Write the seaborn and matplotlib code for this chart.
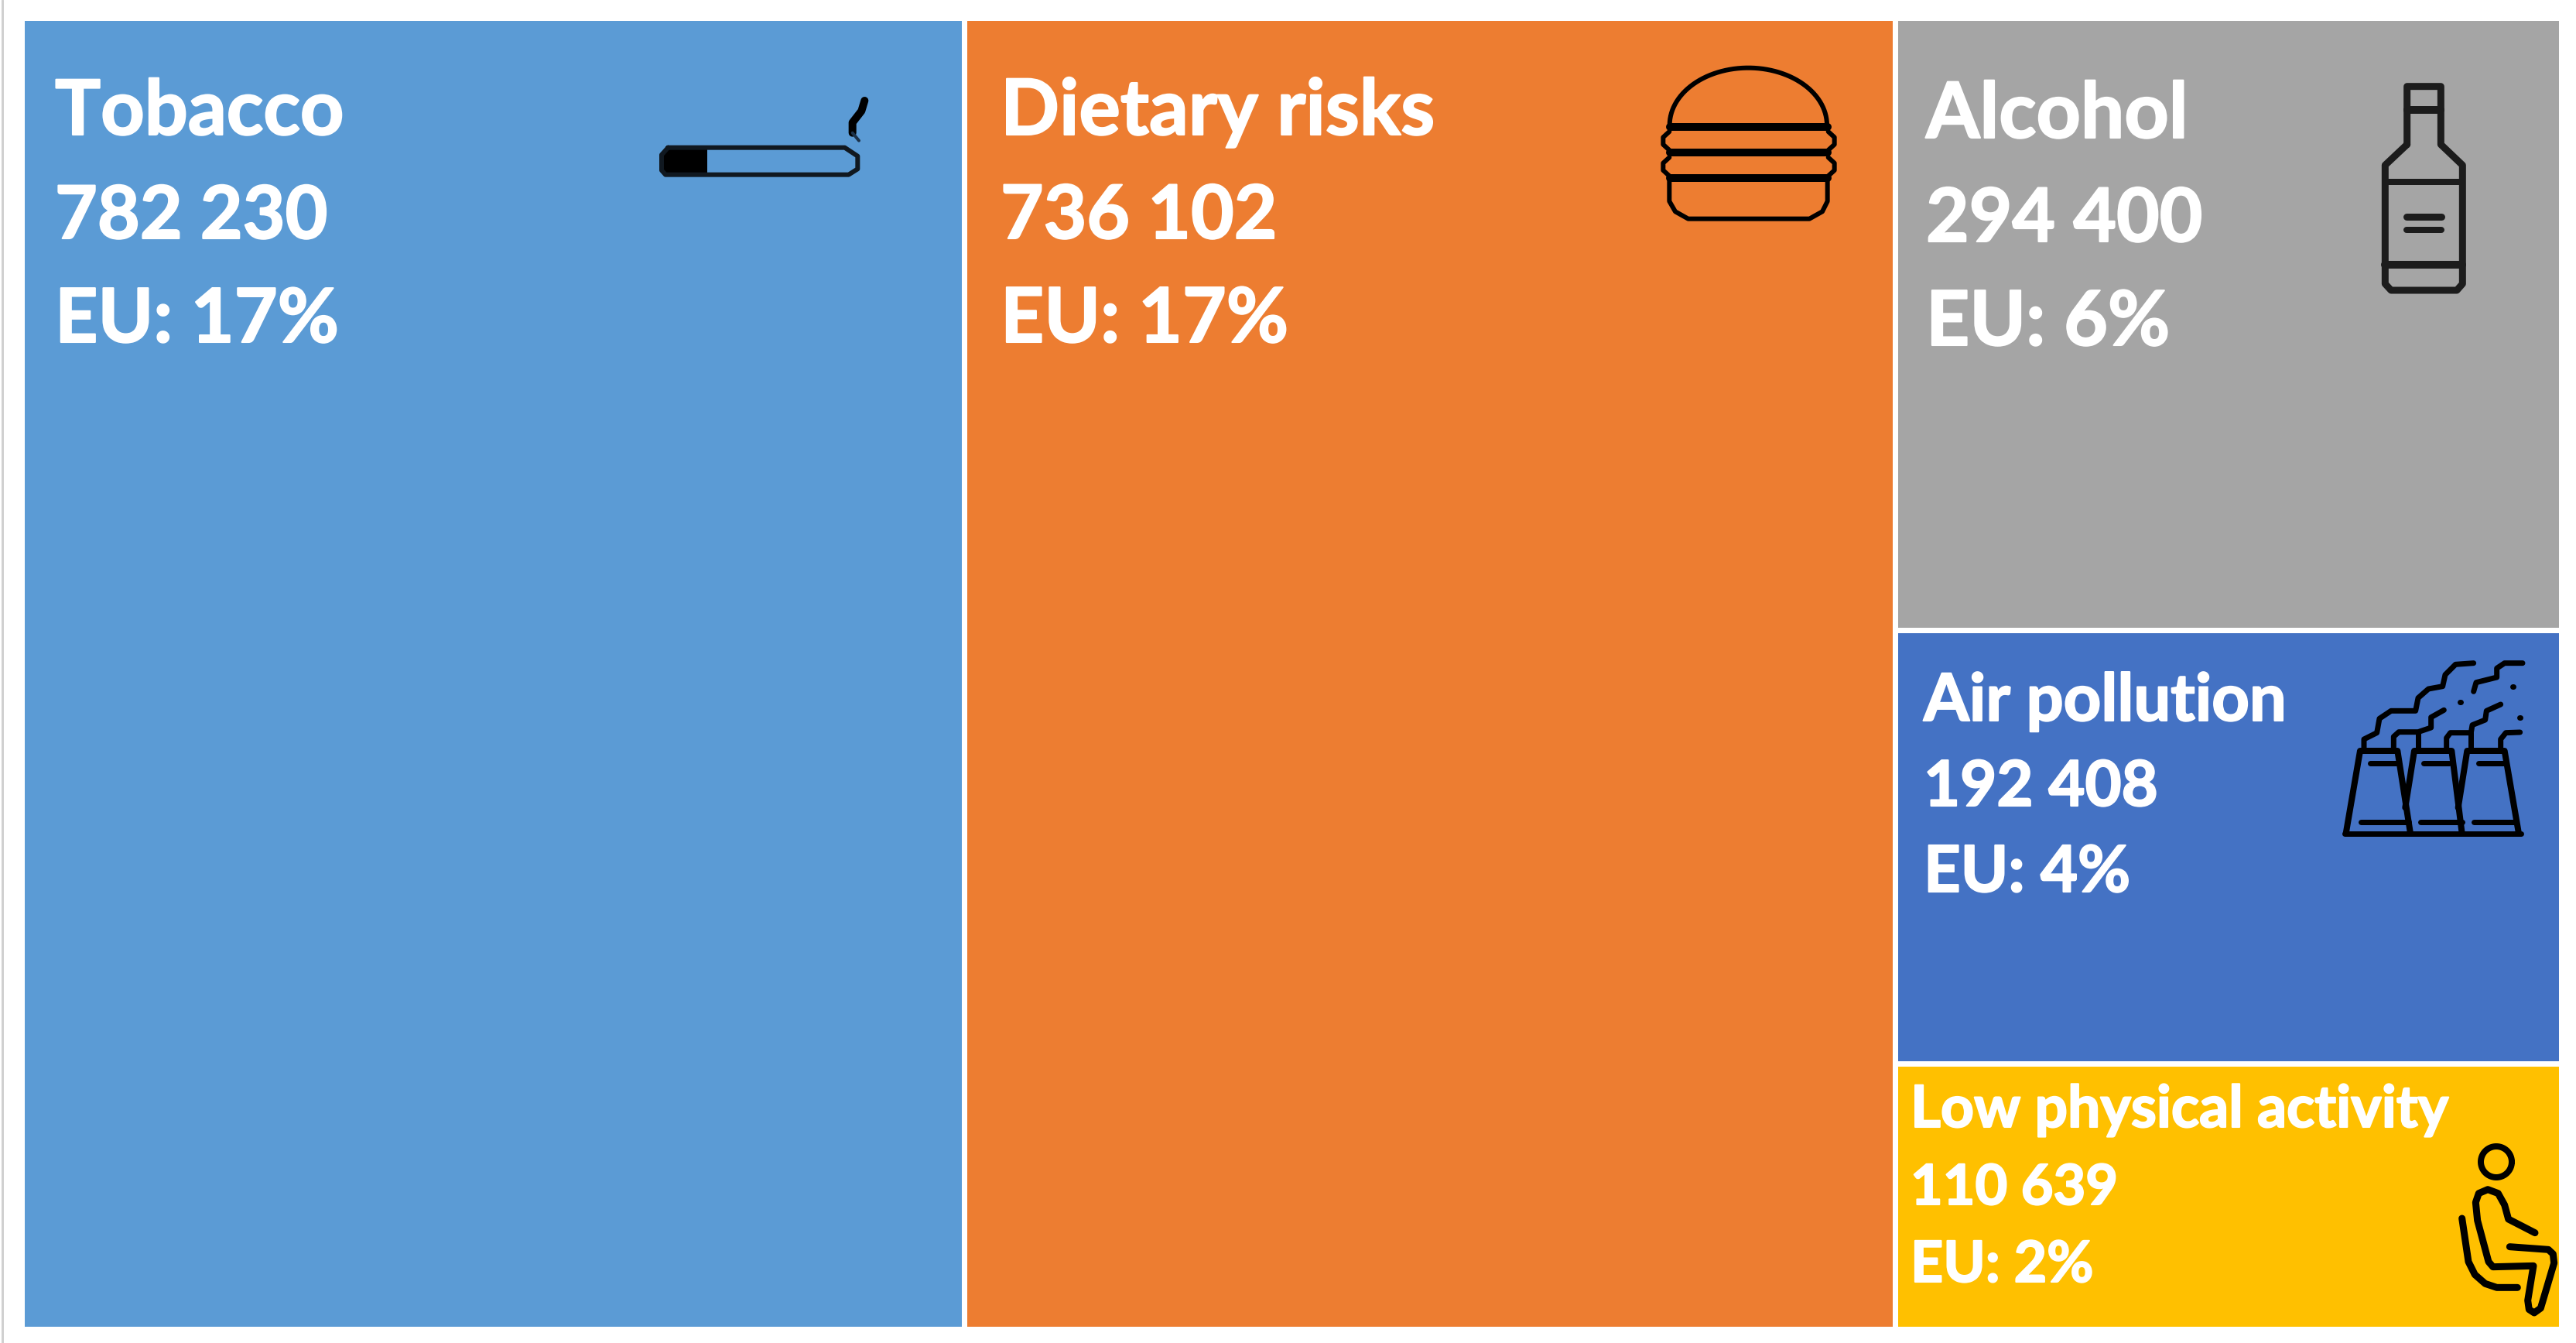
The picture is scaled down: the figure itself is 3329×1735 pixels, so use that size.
# Leading risk factors treemap
import numpy as np
import seaborn as sns
import matplotlib.pyplot as plt
import matplotlib.patheffects as pe

sns.set_theme(style="white")
plt.rcParams['font.family'] = ['Lato', 'DejaVu Sans']

# Data
risks = ['Tobacco', 'Dietary risks', 'Alcohol', 'Air pollution', 'Low physical activity']
deaths = [782230, 736102, 294400, 192408, 110639]
eu_share = [17, 17, 6, 4, 2]
# tiles in the picture are not exactly proportional to deaths, so area (%) is read off it
area_share = [37.1, 36.65, 12.25, 8.67, 5.31]
colors = ['#5B9BD5', '#ED7D31', '#A5A5A5', '#4472C4', '#FFC000']

palette = sns.color_palette(colors)
W, H = 3329, 1735
PX = 72 / 100  # points per pixel at dpi 100

fig = plt.figure(figsize=(W / 100, H / 100), dpi=100, facecolor='white')

# Treemap axes, scales are percent of the total area
ax = fig.add_axes([28 / W, 1 - 1716.5 / H, 3281.5 / W, 1693.5 / H])
ax.set_xlim(0, sum(area_share))
ax.set_ylim(100, 0)
ax.axis('off')

ax.bar(0, 100, width=area_share[0], align='edge', color=palette[0], edgecolor='white', linewidth=7 * PX)
ax.bar(area_share[0], 100, width=area_share[1], align='edge', color=palette[1], edgecolor='white', linewidth=7 * PX)

# Right column is split by height
col_x = area_share[0] + area_share[1]
col_w = sum(area_share[2:])
y0 = 0
for i in range(2, 5):
    h = area_share[i] / col_w * 100
    ax.bar(col_x, h, width=col_w, bottom=y0, align='edge', color=palette[i], edgecolor='white', linewidth=7 * PX)
    y0 += h

# Overlay in pixels for labels and icons
ov = fig.add_axes([0, 0, 1, 1])
ov.set_xlim(0, W)
ov.set_ylim(H, 0)
ov.axis('off')
ov.patch.set_alpha(0)

ov.plot([3, 3], [0, H], color='#D0D0D0', lw=3 * PX)

label_x = [71, 1293, 2489, 2486, 2469]
label_y = [(174, 308, 442), (174, 308, 442), (178, 312, 446), (931, 1041, 1152), (1456, 1556, 1656)]
label_size = [71, 72, 72, 61, 54]
line_scale = [1, 0.96, 0.98]  # Lato digits run wider than the original font

for i, risk in enumerate(risks):
    lines = [risk, f"{deaths[i]:,}".replace(',', ' '), f"EU: {eu_share[i]}%"]
    for line, y, k in zip(lines, label_y[i], line_scale):
        ov.text(label_x[i], y, line, color='white', fontsize=label_size[i] * k, fontweight='bold', va='baseline', ha='left',
                path_effects=[pe.withStroke(linewidth=1.5, foreground='white')])


def stroke(origin, pts, lw, color='black', closed=False):
    pts = np.array(pts, dtype=float) / 3 + origin
    if closed:
        pts = np.vstack([pts, pts[0]])
    ov.plot(pts[:, 0], pts[:, 1], color=color, lw=lw * PX, solid_capstyle='round', solid_joinstyle='round')


# Cigarette
o = (780, 60)
stroke(o, [(250, 392), (935, 392), (985, 425), (985, 475), (950, 497), (240, 497), (225, 480), (225, 420), (250, 392)], 6, '#101820')
ov.fill_between([858, 914], 193, 226, color='black', lw=0)
stroke(o, [(965, 335), (965, 295), (1000, 250), (1012, 210)], 10)
stroke(o, [(990, 365), (965, 335)], 4, '#1B3148')

# Burger
o = (2100, 60)
t = np.linspace(np.pi, 2 * np.pi, 60)
stroke(o, np.c_[478 + 305 * np.cos(t), 305 + 222 * np.sin(t)], 6)
for v in [313, 412, 511]:
    stroke(o, [(175, v), (785, v)], 10)
for v in [330, 430]:
    stroke(o, [(172, v), (148, v + 22), (148, v + 50), (172, v + 72)], 6)
    stroke(o, [(788, v), (812, v + 22), (812, v + 50), (788, v + 72)], 6)
stroke(o, [(172, 520), (172, 600), (195, 640), (245, 668), (715, 668), (765, 640), (785, 600), (785, 520)], 6)

# Bottle
o = (3020, 80)
c = '#1C1C1C'
stroke(o, [(272, 320), (272, 95), (403, 95), (403, 320), (487, 400), (487, 860), (465, 885), (210, 885), (187, 860), (187, 400), (272, 320)], 9, c)
stroke(o, [(272, 185), (403, 185)], 10, c)
stroke(o, [(187, 465), (487, 465)], 8, c)
stroke(o, [(270, 600), (405, 600)], 9, c)
stroke(o, [(270, 650), (405, 650)], 8, c)
stroke(o, [(187, 787), (487, 787)], 10, c)

# Factory
o = (3000, 830)
for tower in [[(95, 740), (150, 420), (295, 420), (345, 740)],
              [(325, 640), (360, 420), (505, 420), (545, 740)],
              [(530, 640), (565, 420), (710, 420), (765, 740)]]:
    stroke(o, tower, 8)
stroke(o, [(90, 740), (775, 740)], 7)
for seg in [[(190, 468), (290, 468)], [(395, 468), (495, 468)], [(610, 468), (705, 468)],
            [(153, 697), (340, 697)], [(385, 697), (545, 697)], [(590, 697), (755, 697)]]:
    stroke(o, seg, 7)
for smoke in [[(165, 415), (165, 375), (215, 350), (225, 295), (270, 265), (365, 265), (375, 215), (415, 180), (470, 170), (480, 125), (520, 85), (590, 80)],
              [(280, 415), (280, 365), (300, 347), (375, 347), (425, 330), (425, 290), (475, 262)],
              [(375, 347), (375, 415)],
              [(485, 415), (485, 370), (500, 350), (580, 350), (585, 320), (635, 300), (640, 265), (695, 240)],
              [(580, 350), (580, 415)],
              [(590, 190), (600, 155), (680, 135), (680, 100), (710, 80), (780, 80)],
              [(695, 415), (695, 375), (715, 350), (770, 348)]]:
    stroke(o, smoke, 7)
for dot in [(537, 230), (742, 170), (767, 290)]:
    stroke(o, [dot, (dot[0] + 3, dot[1])], 7)

# Sitting person
o = (3140, 1450)
t = np.linspace(0, 2 * np.pi, 60)
stroke(o, np.c_[258 + 60 * np.cos(t), 153 + 60 * np.sin(t)], 8)
stroke(o, [(408, 428), (305, 375), (290, 320), (265, 275), (225, 260), (190, 275), (178, 310), (185, 380), (228, 540), (245, 560), (402, 556), (380, 690), (385, 725), (405, 738), (430, 720), (482, 545), (478, 510), (460, 493), (310, 482)], 9)
stroke(o, [(125, 372), (150, 540), (175, 590), (215, 625), (260, 640), (340, 640)], 9)

sns.despine(ax=ax, left=True, bottom=True)
fig.savefig('out.png', dpi=100)
plt.close(fig)
